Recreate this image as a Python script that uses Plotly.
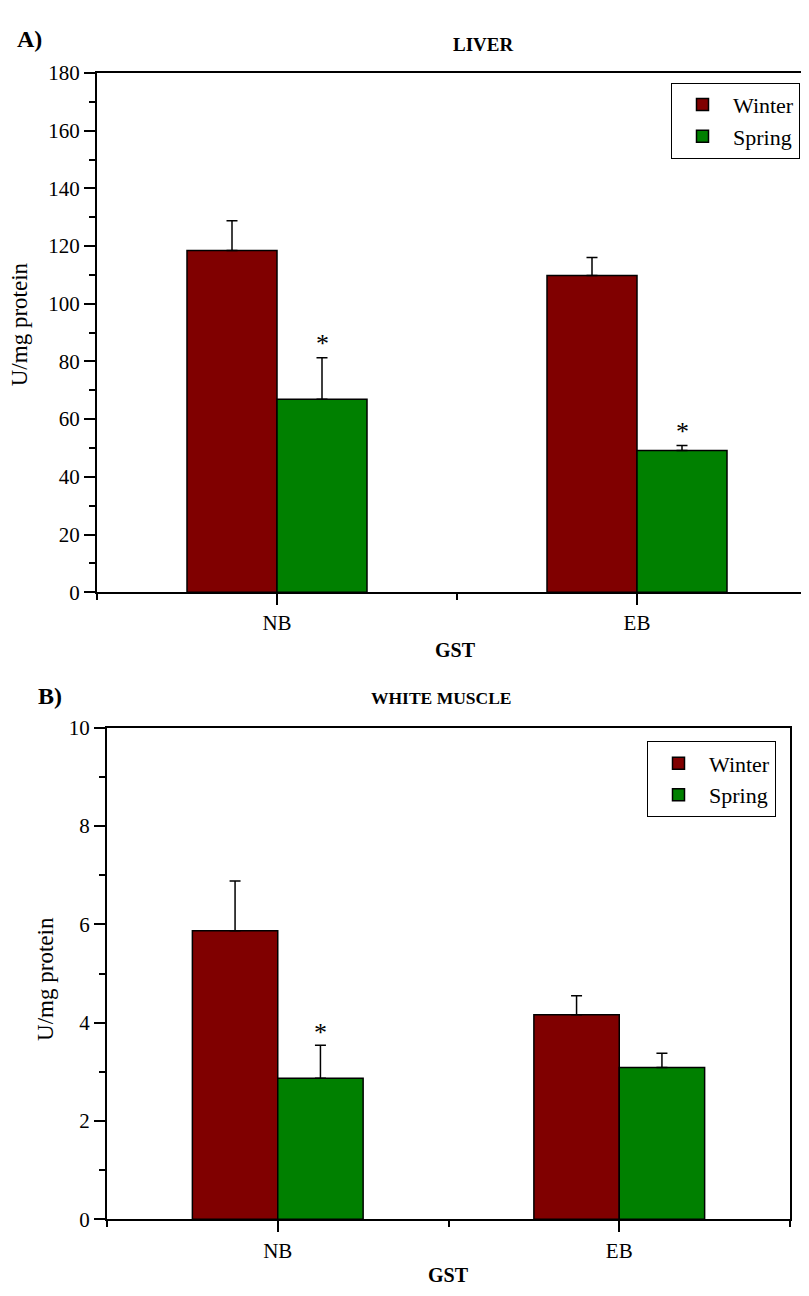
import plotly.graph_objects as go

# ---------------- data ----------------
groups = ["NB", "EB"]
series = ["Winter", "Spring"]

liver_winter = [118.5, 109.8]
liver_winter_err = [10.3, 6.2]
liver_spring = [66.9, 49.1]
liver_spring_err = [14.4, 1.8]
liver_star_y = [87.9, 57.3]          # asterisk positions above Spring bars

muscle_winter = [5.87, 4.16]
muscle_winter_err = [1.01, 0.39]
muscle_spring = [2.87, 3.09]
muscle_spring_err = [0.67, 0.29]
muscle_star_y = [3.91]               # only NB marked

liver_yticks = list(range(0, 181, 20))
muscle_yticks = list(range(0, 11, 2))

# ---------------- style ----------------
W, H = 809, 1296
OFF = 8  # default page body margin in the exported html
FONT = "Liberation Serif, serif"
WINTER_COL = "#800000"
SPRING_COL = "#008000"
xpos = [1, 2]

def px_x(p):
    return (p - OFF) / W

def px_y(p):
    return 1 - (p - OFF) / H

fig = go.Figure()

def add_bars(win, win_err, spr, spr_err, xa, ya, legend):
    fig.add_trace(go.Bar(
        x=xpos, y=win, name="Winter", marker=dict(color=WINTER_COL, line=dict(color="black", width=1.5)),
        error_y=dict(type="data", array=win_err, arrayminus=[0] * len(win), symmetric=False,
                     color="black", thickness=1.5, width=5.5),
        xaxis=xa, yaxis=ya, legend=legend))
    fig.add_trace(go.Bar(
        x=xpos, y=spr, name="Spring", marker=dict(color=SPRING_COL, line=dict(color="black", width=1.5)),
        error_y=dict(type="data", array=spr_err, arrayminus=[0] * len(spr), symmetric=False,
                     color="black", thickness=1.5, width=5.5),
        xaxis=xa, yaxis=ya, legend=legend))

add_bars(liver_winter, liver_winter_err, liver_spring, liver_spring_err, "x", "y", "legend")
add_bars(muscle_winter, muscle_winter_err, muscle_spring, muscle_spring_err, "x2", "y2", "legend2")

tickfont = dict(family=FONT, size=21, color="black")

def xaxis_cfg(domain, rng, mirror):
    return dict(domain=domain, range=rng, tickvals=xpos, ticktext=groups, tickfont=tickfont,
                showline=True, linecolor="black", linewidth=2, mirror=mirror,
                ticks="outside", ticklen=11, tickwidth=2, tickcolor="black",
                minor=dict(tickvals=[0.5, 1.5, 2.5], ticks="outside", ticklen=6, tickwidth=2, tickcolor="black"),
                showgrid=False, zeroline=False, fixedrange=True)

def yaxis_cfg(domain, rng, tickvals, minor_dtick, anchor, mirror):
    return dict(domain=domain, range=rng, tickvals=tickvals, tickfont=tickfont, anchor=anchor,
                showline=True, linecolor="black", linewidth=2, mirror=mirror,
                ticks="outside", ticklen=11, tickwidth=2, tickcolor="black",
                minor=dict(tick0=0, dtick=minor_dtick, ticks="outside", ticklen=6, tickwidth=2, tickcolor="black"),
                showgrid=False, zeroline=False, fixedrange=True)

legend_common = dict(xanchor="left", yanchor="top", bordercolor="black", borderwidth=1, bgcolor="white",
                     font=dict(family=FONT, size=22, color="black"), tracegroupgap=0, itemwidth=51)

fig.update_layout(
    width=W, height=H, margin=dict(l=0, r=0, t=0, b=0),
    paper_bgcolor="white", plot_bgcolor="white",
    barmode="group", bargap=0.5, bargroupgap=0,
    font=dict(family=FONT, color="black"),
    xaxis=xaxis_cfg([px_x(97), px_x(809)], [0.5, 0.5 + (809 - 97) / 360], True) | dict(anchor="y"),
    yaxis=yaxis_cfg([px_y(591), px_y(62)], [0, 180], liver_yticks, 10, "x", False),
    xaxis2=xaxis_cfg([px_x(107), px_x(790)], [0.5, 2.5], True) | dict(anchor="y2"),
    yaxis2=yaxis_cfg([px_y(1230), px_y(729)], [0, 10], muscle_yticks, 1, "x2", True),
    legend=dict(x=px_x(671), y=px_y(72), **legend_common),
    legend2=dict(x=px_x(647), y=px_y(743), **legend_common),
)

anns = []
# significance asterisks over Spring bars
for i, yv in enumerate(liver_star_y):
    anns.append(dict(x=xpos[i] + 0.125, y=yv, xref="x", yref="y", text="*", showarrow=False,
                     font=dict(family=FONT, size=26, color="black"), yanchor="middle", yshift=-5))
for i, yv in enumerate(muscle_star_y):
    anns.append(dict(x=xpos[i] + 0.125, y=yv, xref="x2", yref="y2", text="*", showarrow=False,
                     font=dict(family=FONT, size=26, color="black"), yanchor="middle", yshift=-5))

def paper_text(text, x, y, size, bold=False, angle=0):
    return dict(x=px_x(x), y=px_y(y), xref="paper", yref="paper", text=f"<b>{text}</b>" if bold else text,
                showarrow=False, xanchor="center", yanchor="middle", textangle=angle,
                font=dict(family=FONT, size=size, color="black"))

anns += [
    paper_text("A)", 29, 27, 24, bold=True),
    paper_text("LIVER", 483, 33, 19, bold=True),
    paper_text("U/mg protein", 19, 318, 23, angle=-90),
    paper_text("GST", 455, 650, 20, bold=True),
    paper_text("B)", 50, 697, 24, bold=True),
    paper_text("WHITE MUSCLE", 441, 699, 17.5, bold=True),
    paper_text("U/mg protein", 46, 985, 23, angle=-90),
    paper_text("GST", 448, 1287, 20, bold=True),
]
fig.update_layout(annotations=anns)

fig.write_html("out.html")
